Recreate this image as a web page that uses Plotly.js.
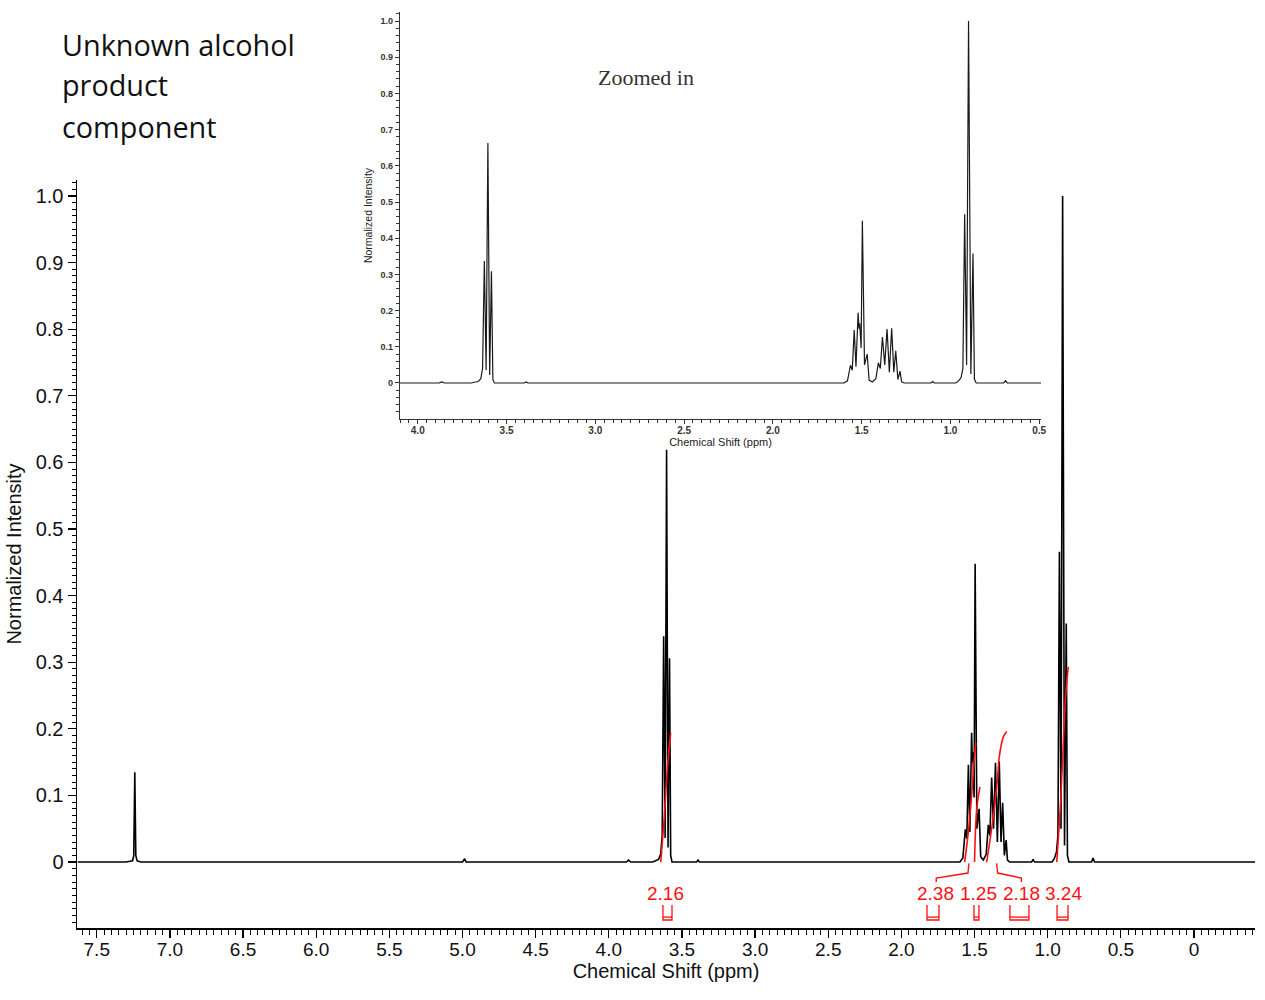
<!DOCTYPE html>
<html>
<head>
<meta charset="utf-8">
<script src="https://cdn.plot.ly/plotly-3.0.1.min.js"></script>
<style>html,body{margin:0;padding:0;background:#fff;}#chart{width:1265px;height:1000px;}</style>
</head>
<body>
<div id="chart"></div>
<script>
// ---- Spectrum contour (ppm, normalized intensity) ----
const solventShift = [7.63, 7.30, 7.255, 7.247, 7.240, 7.233, 7.225, 7.20];
const solventInt   = [0, 0, 0.002, 0.01, 0.135, 0.01, 0.002, 0];

const bump1Shift = [5.00, 4.985, 4.975, 3.88, 3.865, 3.85];
const bump1Int   = [0, 0.005, 0, 0, 0.003, 0];

const tripletShift   = [3.70, 3.66, 3.645, 3.635, 3.625, 3.615, 3.605, 3.595, 3.585, 3.577, 3.568, 3.40, 3.39, 3.38];
const tripletMain    = [0, 0.004, 0.012, 0.04, 0.339, 0.036, 0.619, 0.022, 0.306, 0.01, 0, 0, 0.003, 0];
const tripletInset   = [0, 0.004, 0.012, 0.04, 0.337, 0.036, 0.663, 0.022, 0.309, 0.01, 0, 0, 0.003, 0];

const multShift = [1.60, 1.58, 1.563, 1.553, 1.542, 1.532, 1.520, 1.515, 1.511, 1.503, 1.496, 1.484, 1.469, 1.458, 1.44,
                   1.42, 1.406, 1.395, 1.383, 1.370, 1.357, 1.344, 1.331, 1.319, 1.308, 1.296, 1.284, 1.275, 1.26,
                   1.11, 1.10, 1.09];
const multInt   = [0, 0.006, 0.049, 0.035, 0.146, 0.045, 0.194, 0.15, 0.165, 0.097, 0.448, 0.05, 0.08, 0.008, 0.003,
                   0.012, 0.056, 0.04, 0.127, 0.05, 0.149, 0.03, 0.151, 0.03, 0.089, 0.01, 0.033, 0.003, 0,
                   0, 0.004, 0];

const methylShift = [0.97, 0.955, 0.94, 0.93, 0.920, 0.909, 0.898, 0.885, 0.873, 0.865, 0.855, 0.70, 0.69, 0.68, 0.60, -0.42];
const methylInt   = [0, 0.005, 0.015, 0.04, 0.466, 0.05, 1.0, 0.025, 0.358, 0.01, 0, 0, 0.006, 0, 0, 0];

// ---- Integrals ----
const integralLabels = ["2.16", "2.38", "1.25", "2.18", "3.24"];
const integralLabelShift = [3.61, 1.765, 1.476, 1.18, 0.895];
const integralCurveShift = [
  [3.645, 3.62, 3.60, 3.577],
  [1.568, 1.545, 1.52, 1.505, 1.492],
  [1.50, 1.485, 1.463],
  [1.417, 1.372, 1.345, 1.331, 1.303, 1.280],
  [0.938, 0.911, 0.895, 0.882, 0.870, 0.859]
];
const integralCurveValue = [
  [0, 0.07, 0.14, 0.194],
  [0, 0.04, 0.10, 0.145, 0.179],
  [0, 0.08, 0.113],
  [0, 0.068, 0.12, 0.158, 0.188, 0.196],
  [0, 0.093, 0.17, 0.233, 0.27, 0.293]
];
const bracketLeft  = [3.630, 1.825, 1.504, 1.258, 0.936];
const bracketRight = [3.568, 1.743, 1.470, 1.128, 0.861];
const connectorPeakShift = [null, 1.538, null, 1.349, null];

// ---- Ticks ----
const mainXTicks = [7.5, 7.0, 6.5, 6.0, 5.5, 5.0, 4.5, 4.0, 3.5, 3.0, 2.5, 2.0, 1.5, 1.0, 0.5, 0];
const mainXTickText = ["7.5","7.0","6.5","6.0","5.5","5.0","4.5","4.0","3.5","3.0","2.5","2.0","1.5","1.0","0.5","0"];
const yTicks = [0, 0.1, 0.2, 0.3, 0.4, 0.5, 0.6, 0.7, 0.8, 0.9, 1.0];
const yTickText = ["0","0.1","0.2","0.3","0.4","0.5","0.6","0.7","0.8","0.9","1.0"];
const insetXTicks = [4.0, 3.5, 3.0, 2.5, 2.0, 1.5, 1.0, 0.5];
const insetXTickText = ["4.0","3.5","3.0","2.5","2.0","1.5","1.0","0.5"];

const titleLines = ["Unknown alcohol", "product", "component"];

// ---- Build ----
const allShift = [].concat(solventShift, bump1Shift, tripletShift, multShift, methylShift);
const mainInt  = [].concat(solventInt, bump1Int, tripletMain, multInt, methylInt);
const insetInt = [].concat(solventInt, bump1Int, tripletInset, multInt, methylInt);

const W = 1265, H = 1000;
const RED = "#ff1010";
const SANS = "Liberation Sans, Arial, sans-serif";

const traces = [];
traces.push({x: allShift, y: mainInt, xaxis: "x", yaxis: "y", type: "scatter", mode: "lines",
  line: {color: "#000", width: 1.6}, hoverinfo: "skip"});
traces.push({x: allShift, y: insetInt, xaxis: "x2", yaxis: "y2", type: "scatter", mode: "lines",
  line: {color: "#1a1a1a", width: 1.2}, hoverinfo: "skip"});
integralCurveShift.forEach((xs, i) => {
  traces.push({x: xs, y: integralCurveValue[i], xaxis: "x", yaxis: "y", type: "scatter", mode: "lines",
    line: {color: RED, width: 1.6, shape: "spline"}, hoverinfo: "skip"});
});

const shapes = [];
const yTop = -0.0646, yBot = -0.087, yBot2 = -0.0826;
bracketLeft.forEach((l, i) => {
  const r = bracketRight[i];
  shapes.push({type: "path", xref: "x", yref: "y",
    path: `M${l},${yTop} L${l},${yBot} L${r},${yBot} L${r},${yTop}`,
    line: {color: RED, width: 1.3}});
  shapes.push({type: "line", xref: "x", yref: "y", x0: l, x1: r, y0: yBot2, y1: yBot2,
    line: {color: RED, width: 1.3}});
});
connectorPeakShift.forEach((p, i) => {
  if (p === null) return;
  const lx = integralLabelShift[i] + (integralLabelShift[i] > p ? -0.003 : 0);
  const elbow = p + (integralLabelShift[i] > p ? 0.007 : -0.007);
  shapes.push({type: "path", xref: "x", yref: "y",
    path: `M${lx},-0.030 L${lx},-0.024 L${elbow},-0.0165 L${p},-0.002`,
    line: {color: RED, width: 1.4}});
});

const annotations = [];
integralLabels.forEach((t, i) => {
  annotations.push({xref: "x", yref: "y", x: integralLabelShift[i], y: -0.0465, text: t, showarrow: false,
    xanchor: "center", yanchor: "middle", font: {family: SANS, size: 19, color: RED}});
});
titleLines.forEach((t, i) => {
  annotations.push({xref: "paper", yref: "paper", x: 60 / W, y: 1 - (44 + i * 41) / H, text: t, showarrow: false,
    xanchor: "left", yanchor: "middle", font: {family: "Open Sans, Noto Sans, sans-serif", size: 28.8, color: "#111"}});
});
annotations.push({xref: "paper", yref: "paper", x: 646 / W, y: 1 - 78 / H, text: "Zoomed in", showarrow: false,
  xanchor: "center", yanchor: "middle", font: {family: "Liberation Serif, Times New Roman, serif", size: 22, color: "#333"}});

const xFont = {family: SANS, size: 19, color: "#111"};
const yFont = {family: SANS, size: 20, color: "#111"};
const titleFont = {family: SANS, size: 20, color: "#111"};
const insetFont = {family: SANS, size: 10, color: "#333", weight: "bold"};

const layout = {
  width: W, height: H,
  margin: {l: 0, r: 0, t: 0, b: 0},
  paper_bgcolor: "#fff", plot_bgcolor: "rgba(0,0,0,0)",
  showlegend: false,
  xaxis: {
    domain: [77 / W, 1255 / W], range: [7.635, -0.417], autorange: false, anchor: "y",
    showline: true, linecolor: "#000", linewidth: 1.5,
    showgrid: false, zeroline: false,
    ticks: "outside", ticklen: 8, tickwidth: 1.3, tickcolor: "#000",
    ticklabelstandoff: -4,
    tickmode: "array", tickvals: mainXTicks, ticktext: mainXTickText,
    minor: {dtick: 0.05, tick0: 0, ticks: "outside", ticklen: 5, tickwidth: 1, tickcolor: "#000", showgrid: false},
    tickfont: xFont,
    title: {text: "Chemical Shift (ppm)", font: titleFont, standoff: 3}
  },
  yaxis: {
    domain: [1 - 928 / H, 1 - 180 / H], range: [-0.099, 1.024], autorange: false, anchor: "x",
    showline: true, linecolor: "#000", linewidth: 1.5,
    showgrid: false, zeroline: false,
    ticks: "outside", ticklen: 8, tickwidth: 1.3, tickcolor: "#000",
    tickmode: "array", tickvals: yTicks, ticktext: yTickText,
    minor: {dtick: 0.01, tick0: 0, ticks: "outside", ticklen: 4, tickwidth: 1, tickcolor: "#000", showgrid: false},
    tickfont: yFont,
    title: {text: "Normalized Intensity", font: titleFont, standoff: 8}
  },
  xaxis2: {
    domain: [400 / W, 1041 / W], range: [4.10, 0.49], autorange: false, anchor: "y2",
    showline: true, linecolor: "#333", linewidth: 1.2,
    showgrid: false, zeroline: false,
    ticks: "outside", ticklen: 4, tickwidth: 1, tickcolor: "#333",
    ticklabelstandoff: -2,
    tickmode: "array", tickvals: insetXTicks, ticktext: insetXTickText,
    minor: {dtick: 0.05, tick0: 0, ticks: "outside", ticklen: 3, tickwidth: 1, tickcolor: "#333", showgrid: false},
    tickfont: insetFont,
    title: {text: "Chemical Shift (ppm)", font: {family: SANS, size: 11, color: "#222"}, standoff: 2}
  },
  yaxis2: {
    domain: [1 - 419 / H, 1 - 12 / H], range: [-0.0995, 1.025], autorange: false, anchor: "x2",
    showline: true, linecolor: "#333", linewidth: 1.2,
    showgrid: false, zeroline: false,
    ticks: "outside", ticklen: 4, tickwidth: 1, tickcolor: "#333",
    tickmode: "array", tickvals: yTicks, ticktext: yTickText,
    minor: {dtick: 0.02, tick0: 0, ticks: "outside", ticklen: 2.5, tickwidth: 1, tickcolor: "#333", showgrid: false},
    tickfont: {family: SANS, size: 9, color: "#333", weight: "bold"},
    title: {text: "Normalized Intensity", font: {family: SANS, size: 10.5, color: "#222"}, standoff: 5}
  },
  shapes: shapes,
  annotations: annotations
};

Plotly.newPlot("chart", traces, layout, {displayModeBar: false, staticPlot: true});
</script>
</body>
</html>
